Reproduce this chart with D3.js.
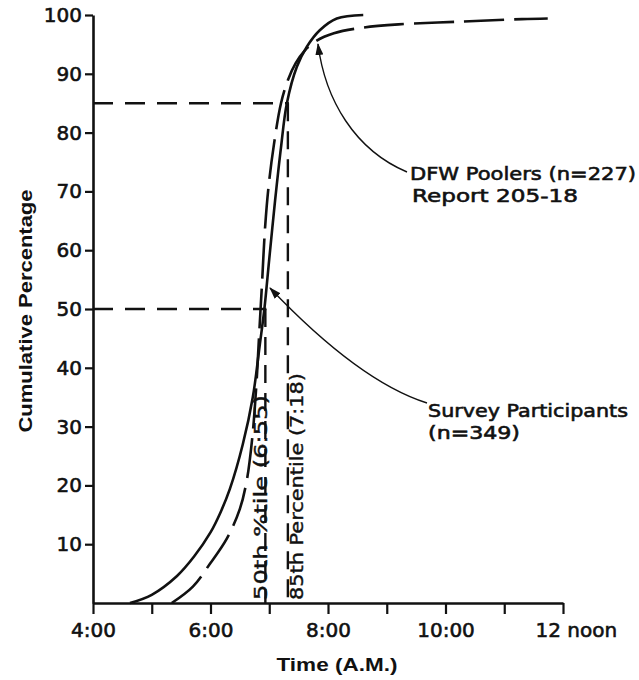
<!DOCTYPE html>
<html>
<head>
<meta charset="utf-8">
<script src="https://cdn.jsdelivr.net/npm/d3@7"></script>
<style>
  html, body { margin: 0; padding: 0; background: #fff; }
  svg { display: block; }
  text { font-family: "DejaVu Sans", sans-serif; fill: #111; }
</style>
</head>
<body>
<svg id="chart" width="639" height="680"></svg>
<script>
// Hour ticks on the time axis and which of them carry a label
const hourTicks = [4, 5, 6, 7, 8, 9, 10, 11, 12];
const hourLabelValues = [4, 6, 8, 10, 12];
const hourLabelText = ["4:00", "6:00", "8:00", "10:00", "12 noon"];

// Percentage ticks
const pctTicks = [10, 20, 30, 40, 50, 60, 70, 80, 90, 100];

// Survey Participants (n=349): time of day (hours) and cumulative percentage
const surveyTime = [4.63, 5.0, 5.43, 5.72, 6.0, 6.17, 6.33, 6.55, 6.72, 6.84, 6.917, 7.0, 7.1, 7.2, 7.3, 7.47, 7.64, 7.86, 8.15, 8.6];
const surveyPct  = [0, 1.4, 4.6, 7.9, 12.0, 15.4, 19.4, 27, 35, 44, 50, 58.5, 68.5, 77.5, 85, 91.2, 94.6, 97.4, 99.4, 100];

// DFW Poolers (n=227), Report 205-18
const dfwTime = [5.34, 5.7, 6.0, 6.28, 6.5, 6.62, 6.71, 6.78, 6.83, 6.875, 6.93, 6.99, 7.08, 7.2, 7.32, 7.45, 7.6, 7.8, 8.1, 8.55, 9.2, 10.3, 11.3, 11.74];
const dfwPct  = [0, 2.8, 6.8, 11, 16, 21, 28, 37, 46, 54, 64, 71, 78, 85, 89, 91.8, 93.9, 95.6, 96.9, 97.8, 98.4, 98.9, 99.3, 99.4];

// Percentile markers for the survey curve
const pctLevels = [50, 85];
const pctTimes = [6 + 55 / 60, 7 + 18 / 60];
const pctLabels = ["50th %tile (6:55)", "85th Percentile (7:18)"];

const svg = d3.select("#chart");

const x = d3.scaleLinear().domain([4, 12]).range([93, 563]);
const y = d3.scaleLinear().domain([0, 100]).range([603, 15]);

// arrowhead marker
svg.append("defs").append("marker")
  .attr("id", "arrow")
  .attr("viewBox", "0 0 12 8")
  .attr("refX", 11).attr("refY", 4)
  .attr("markerWidth", 12).attr("markerHeight", 8)
  .attr("markerUnits", "userSpaceOnUse")
  .attr("orient", "auto")
  .append("path").attr("d", "M0,0 L12,4 L0,8 Z").attr("fill", "#111");

// x axis
const xAxis = d3.axisBottom(x)
  .tickValues(hourTicks)
  .tickSize(11)
  .tickSizeOuter(0)
  .tickPadding(9)
  .tickFormat(d => {
    const i = hourLabelValues.indexOf(d);
    return i >= 0 ? hourLabelText[i] : "";
  });

const gx = svg.append("g").attr("transform", `translate(0,${y(0)})`).call(xAxis);
gx.select(".domain").attr("stroke", "#111").attr("stroke-width", 2.6);
gx.selectAll(".tick line").attr("stroke", "#111").attr("stroke-width", 2.2);
gx.selectAll(".tick text")
  .style("font-size", "20px")
  .attr("stroke", "#111").attr("stroke-width", 0.6);
gx.selectAll(".tick").filter(d => d === 12).select("text")
  .attr("text-anchor", "start").attr("x", -28);

// y axis
const yAxis = d3.axisLeft(y)
  .tickValues(pctTicks)
  .tickSize(8)
  .tickSizeOuter(0)
  .tickPadding(3);

const gy = svg.append("g").attr("transform", `translate(${x(4)},0)`).call(yAxis);
gy.select(".domain").attr("stroke", "#111").attr("stroke-width", 2.6);
gy.selectAll(".tick line").attr("stroke", "#111").attr("stroke-width", 2.2);
gy.selectAll(".tick text")
  .style("font-size", "20px")
  .attr("stroke", "#111").attr("stroke-width", 0.6);

// axis titles
svg.append("text")
  .attr("transform", `translate(32,${(y(100) + y(0)) / 2 + 2}) rotate(-90)`)
  .attr("text-anchor", "middle")
  .style("font-family", "'Liberation Sans', Arial, sans-serif")
  .style("font-weight", "bold")
  .style("font-size", "19px")
  .attr("textLength", 243).attr("lengthAdjust", "spacingAndGlyphs")
  .text("Cumulative Percentage");

svg.append("text")
  .attr("x", 337).attr("y", 671)
  .attr("text-anchor", "middle")
  .style("font-family", "'Liberation Sans', Arial, sans-serif")
  .style("font-weight", "bold")
  .style("font-size", "19px")
  .attr("textLength", 121).attr("lengthAdjust", "spacingAndGlyphs")
  .text("Time (A.M.)");

// percentile guide lines
const guides = svg.append("g")
  .attr("stroke", "#111").attr("stroke-width", 2.4)
  .attr("stroke-dasharray", "20,12").attr("fill", "none");

pctLevels.forEach((p, i) => {
  guides.append("line")
    .attr("x1", x(4)).attr("x2", x(pctTimes[i]) + 2)
    .attr("y1", y(p)).attr("y2", y(p));
  guides.append("line")
    .attr("x1", x(pctTimes[i]) + 1).attr("x2", x(pctTimes[i]) + 1)
    .attr("y1", y(p)).attr("y2", y(0))
    .attr("stroke-dasharray", "18,10");
});

// percentile labels, written upward along the guides
const pctLabelLen = [205, 227];
pctLabels.forEach((t, i) => {
  const bx = i === 0 ? x(pctTimes[i]) + 3 : x(pctTimes[i]) + 16;
  svg.append("text")
    .attr("transform", `translate(${bx},${y(0) - 3}) rotate(-90)`)
    .attr("text-anchor", "start")
    .style("font-size", "18px")
    .attr("stroke", "#111").attr("stroke-width", 0.4)
    .attr("textLength", pctLabelLen[i]).attr("lengthAdjust", "spacingAndGlyphs")
    .text(t);
});

// curves
const line = d3.line()
  .x(d => x(d[0]))
  .y(d => y(d[1]))
  .curve(d3.curveCatmullRom.alpha(0.5));

const surveyData = surveyTime.map((t, i) => [t, surveyPct[i]]);
const dfwData = dfwTime.map((t, i) => [t, dfwPct[i]]);

svg.append("path")
  .datum(surveyData)
  .attr("d", line)
  .attr("fill", "none")
  .attr("stroke", "#111")
  .attr("stroke-width", 2.6);

svg.append("path")
  .datum(dfwData)
  .attr("d", line)
  .attr("fill", "none")
  .attr("stroke", "#111")
  .attr("stroke-width", 2.6)
  .attr("stroke-dasharray", "40,10");

// annotations with arrows
svg.append("path")
  .attr("d", "M407,172 C355,150 325,100 318,44")
  .attr("fill", "none").attr("stroke", "#111").attr("stroke-width", 1.4)
  .attr("marker-end", "url(#arrow)");

svg.append("path")
  .attr("d", "M427,403 C370,385 310,330 270,288")
  .attr("fill", "none").attr("stroke", "#111").attr("stroke-width", 1.4)
  .attr("marker-end", "url(#arrow)");

const notes = [
  { x: 410, y: 180, t: "DFW Poolers (n=227)", w: 226 },
  { x: 412, y: 202, t: "Report 205-18", w: 166 },
  { x: 428, y: 417, t: "Survey Participants", w: 200 },
  { x: 428, y: 439, t: "(n=349)", w: 92 }
];
notes.forEach(n => {
  svg.append("text")
    .attr("x", n.x).attr("y", n.y)
    .style("font-size", "18px")
    .attr("stroke", "#111").attr("stroke-width", 0.6)
    .attr("textLength", n.w).attr("lengthAdjust", "spacingAndGlyphs")
    .text(n.t);
});
</script>
</body>
</html>
